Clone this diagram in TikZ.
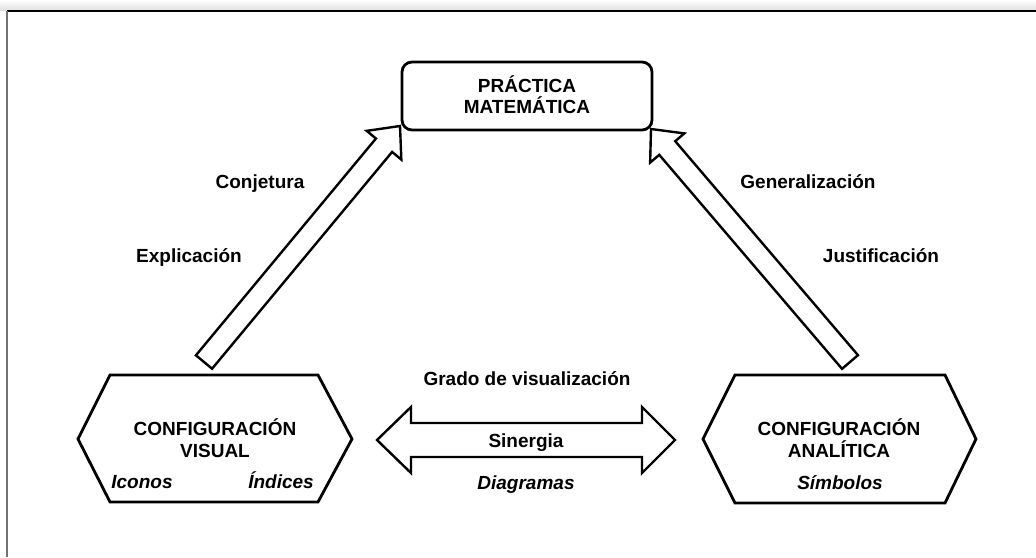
\documentclass[tikz,border=0pt]{standalone}
\usepackage{fontspec}
\setmainfont{Liberation Sans}
\usetikzlibrary{calc}
\tikzset{
  lbl/.style={inner sep=0pt, anchor=base, font=\fontsize{19}{22}\selectfont\bfseries},
  ilbl/.style={lbl, font=\fontsize{19}{22}\selectfont\bfseries\itshape},
  shapeline/.style={draw=black, line width=2.8pt, line join=miter},
  arrowline/.style={draw=black, line width=2.4pt, line join=miter, fill=white},
}
\newcommand{\blockarrow}[3]{% tail, tip, base-name
  \coordinate (#3) at ($(#2)!25pt!(#1)$);
  \draw[arrowline] ($(#1)!10.5pt!90:(#2)$) -- ($(#3)!10.5pt!90:(#2)$) -- ($(#3)!22.5pt!90:(#2)$)
    -- (#2) -- ($(#3)!22.5pt!-90:(#2)$) -- ($(#3)!10.5pt!-90:(#2)$) -- ($(#1)!10.5pt!-90:(#2)$) -- cycle;
}
\begin{document}
\begin{tikzpicture}[x=1pt,y=-1pt]
\useasboundingbox (0,0) rectangle (1036,557);
% frame
\shade[top color=white, bottom color=black!12] (0,0) rectangle (1036,10);
\draw[black, line width=1.6pt] (7,11) -- (1036,11);
\draw[black!55, line width=2pt] (7,11) -- (7,557);

% top box
\draw[shapeline, rounded corners=10pt] (402,62) rectangle (652,130);
\node[lbl] (p1) at (527,92) {PRÁCTICA};
\node[lbl] (p2) at (527,113) {MATEMÁTICA};

% left hexagon
\draw[shapeline] (110,375) -- (318,375) -- (352,439) -- (318,502) -- (110,502) -- (78,439) -- cycle;
\node[lbl] (v1) at (215,435) {CONFIGURACIÓN};
\node[lbl] (v2) at (215,457) {VISUAL};
\node[ilbl] (v3) at (142,488) {Iconos};
\node[ilbl] (v4) at (281,488) {Índices};

% right hexagon
\draw[shapeline] (735,375) -- (945,375) -- (976,439) -- (945,503) -- (735,503) -- (703,439) -- cycle;
\node[lbl] (a1) at (839,435) {CONFIGURACIÓN};
\node[lbl] (a2) at (839,457) {ANALÍTICA};
\node[ilbl] (a3) at (840,489) {Símbolos};

% diagonal arrows
\coordinate (lT) at (204,362);
\coordinate (lP) at (400,126);
\coordinate (rT) at (850,362);
\coordinate (rP) at (651,129);
\blockarrow{lT}{lP}{lB}
\blockarrow{rT}{rP}{rB}

\node[lbl] (c1) at (260,188) {Conjetura};
\node[lbl] (c2) at (189,262) {Explicación};
\node[lbl] (g1) at (808,188) {Generalización};
\node[lbl] (g2) at (881,262) {Justificación};

% double arrow
\coordinate (dl) at (377,440);
\coordinate (dr) at (675,440);
\draw[arrowline] (dl) -- (411,407) -- (411,423) -- (642,423) -- (642,407) -- (dr)
  -- (642,473) -- (642,457) -- (411,457) -- (411,473) -- cycle;
\node[lbl] (s0) at (527,385) {Grado de visualización};
\node[lbl] (s1) at (526,447) {Sinergia};
\node[ilbl] (s2) at (526,489) {Diagramas};
\end{tikzpicture}
\end{document}
